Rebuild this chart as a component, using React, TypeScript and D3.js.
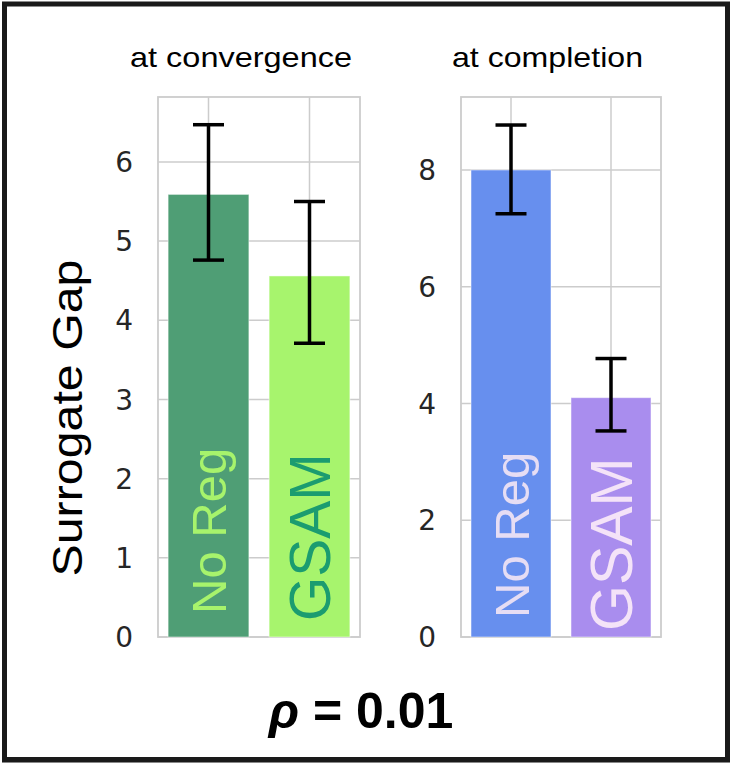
import React from 'react'
import { scaleBand, scaleLinear } from 'd3'

const width = 745
const height = 772

// data
const categories = ['No Reg', 'GSAM']
const panelTitles = ['at convergence', 'at completion']
const convValues = [5.59, 4.56]
const convLow = [4.76, 3.71]
const convHigh = [6.47, 5.5]
const compValues = [8.0, 4.1]
const compLow = [7.25, 3.53]
const compHigh = [8.77, 4.77]
const convTicks = [0, 1, 2, 3, 4, 5, 6]
const compTicks = [0, 2, 4, 6, 8]
const convColors = ['#4f9e75', '#a7f46d']
const convTextColors = ['#a7f36c', '#1b9c70']
const compColors = ['#678fee', '#a98dee']
const compTextColors = ['#e6ddf4', '#f4e3f8']

const plotTop = 97
const plotBottom = 637
const tickFont = '"DejaVu Sans", sans-serif'
const sansFont = '"Liberation Sans", Arial, sans-serif'

type PanelProps = {
  x0: number
  x1: number
  yMax: number
  title: string
  titleX: number
  titleLength: number
  values: number[]
  low: number[]
  high: number[]
  ticks: number[]
  colors: string[]
  textColors: string[]
  labelSizes: number[]
  labelStarts: number[]
}

function Panel(p: PanelProps) {
  const xScale = scaleBand<string>()
    .domain(categories)
    .range([p.x0, p.x1])
    .paddingInner(0.2)
    .paddingOuter(0.1)
  const yScale = scaleLinear().domain([0, p.yMax]).range([plotBottom, plotTop])
  const grid = '#cccccc'

  return (
    <g>
      <text
        x={p.titleX}
        y={67}
        textAnchor="middle"
        fontFamily={sansFont}
        fontSize={28}
        textLength={p.titleLength}
        lengthAdjust="spacingAndGlyphs"
        fill="#000"
      >
        {p.title}
      </text>
      {p.ticks.map((t) => (
        <g key={t}>
          <line x1={p.x0} x2={p.x1} y1={yScale(t)} y2={yScale(t)} stroke={grid} strokeWidth={1.5} />
          <text
            x={p.x0 - 25}
            y={yScale(t)}
            dy="0.36em"
            textAnchor="end"
            fontFamily={tickFont}
            fontSize={28}
            fill="#262626"
          >
            {t}
          </text>
        </g>
      ))}
      {categories.map((c) => (
        <line
          key={c}
          x1={xScale(c)! + xScale.bandwidth() / 2}
          x2={xScale(c)! + xScale.bandwidth() / 2}
          y1={plotTop}
          y2={plotBottom}
          stroke={grid}
          strokeWidth={1.5}
        />
      ))}
      <rect x={p.x0} y={plotTop} width={p.x1 - p.x0} height={plotBottom - plotTop} fill="none" stroke={grid} strokeWidth={1.8} />
      {categories.map((c, i) => {
        const bx = xScale(c)!
        const cx = bx + xScale.bandwidth() / 2
        const fs = p.labelSizes[i]
        return (
          <g key={c}>
            <rect
              x={bx}
              y={yScale(p.values[i])}
              width={xScale.bandwidth()}
              height={yScale(0) - yScale(p.values[i])}
              fill={p.colors[i]}
              stroke="#ffffff"
              strokeOpacity={0.5}
              strokeWidth={1}
            />
            <text
              transform={`translate(${cx},${p.labelStarts[i]}) rotate(-90)`}
              y={fs * 0.36}
              fontFamily={sansFont}
              fontSize={fs}
              fill={p.textColors[i]}
            >
              {c}
            </text>
            <line x1={cx} x2={cx} y1={yScale(p.low[i])} y2={yScale(p.high[i])} stroke="#000" strokeWidth={3.5} />
            <line x1={cx - 15.5} x2={cx + 15.5} y1={yScale(p.low[i])} y2={yScale(p.low[i])} stroke="#000" strokeWidth={3.5} />
            <line x1={cx - 15.5} x2={cx + 15.5} y1={yScale(p.high[i])} y2={yScale(p.high[i])} stroke="#000" strokeWidth={3.5} />
          </g>
        )
      })}
    </g>
  )
}

export default function App() {
  return (
    <div style={{ position: 'absolute', left: 0, top: 0 }}>
      <svg width={width} height={height} style={{ display: 'block', background: '#fff' }}>
        <rect x={0} y={0} width={width} height={height} fill="#fff" />
        <Panel
          x0={158}
          x1={360}
          yMax={6.82}
          title={panelTitles[0]}
          titleX={241}
          titleLength={222}
          values={convValues}
          low={convLow}
          high={convHigh}
          ticks={convTicks}
          colors={convColors}
          textColors={convTextColors}
          labelSizes={[49, 57]}
          labelStarts={[614, 621]}
        />
        <Panel
          x0={461}
          x1={661}
          yMax={9.25}
          title={panelTitles[1]}
          titleX={547.5}
          titleLength={191}
          values={compValues}
          low={compLow}
          high={compHigh}
          ticks={compTicks}
          colors={compColors}
          textColors={compTextColors}
          labelSizes={[49, 59]}
          labelStarts={[618, 631]}
        />
        <text
          transform="translate(82,418) rotate(-90)"
          textAnchor="middle"
          fontFamily={sansFont}
          fontSize={42}
          textLength={317}
          lengthAdjust="spacingAndGlyphs"
          fill="#000"
        >
          Surrogate Gap
        </text>
        <text x={361} y={728} textAnchor="middle" fontFamily={sansFont} fontSize={50} fontWeight="bold" fill="#000">
          <tspan fontStyle="italic">ρ</tspan> = 0.01
        </text>
        <rect x={4.5} y={4} width={723} height={755.5} fill="none" stroke="#1a1a1a" strokeWidth={5} />
        <line x1={2} x2={730} y1={762.5} y2={762.5} stroke="#888" strokeWidth={1} />
      </svg>
    </div>
  )
}
